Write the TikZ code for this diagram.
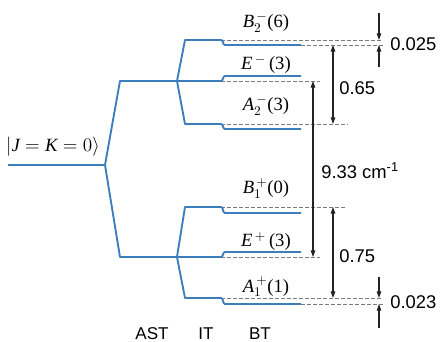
\documentclass[tikz,border=0pt]{standalone}
\usepackage{fontspec}
\setmainfont{Liberation Serif}
\setsansfont{Liberation Sans}
\usetikzlibrary{arrows.meta}
\definecolor{lvlblue}{RGB}{60,125,190}
\definecolor{dashgray}{RGB}{125,125,125}
\definecolor{arrgray}{RGB}{35,35,35}
\begin{document}
\begin{tikzpicture}[x=0.75pt,y=-0.75pt,
  level/.style={draw=lvlblue, line width=1.4pt, line join=round},
  guide/.style={draw=dashgray, line width=0.6pt, dash pattern=on 3pt off 1.5pt},
  gap/.style={draw=arrgray, line width=0.8pt},
  dbl/.style={gap, {Triangle[length=5pt,width=3.4pt]}-{Triangle[length=5pt,width=3.4pt]}},
  one/.style={gap, -{Triangle[length=5pt,width=3.4pt]}},
  sym/.style={font=\fontsize{14}{16}\selectfont, anchor=base, inner sep=0pt},
  num/.style={font=\sffamily\fontsize{13.8}{16}\selectfont, anchor=west, inner sep=0pt},
  col/.style={font=\sffamily\fontsize{12.8}{15}\selectfont, inner sep=0pt}]
\useasboundingbox (0,0) rectangle (443,342);

% ground and AST
\coordinate (g0) at (8,165);
\coordinate (g1) at (105,165);
\coordinate (au0) at (120,81);
\coordinate (au1) at (177,81);
\coordinate (al0) at (120,257);
\coordinate (al1) at (177,257);
% IT upper group
\coordinate (i1a) at (185,40);  \coordinate (i1b) at (221,40);
\coordinate (i2b) at (221,81);
\coordinate (i3a) at (185,124); \coordinate (i3b) at (221,124);
% IT lower group
\coordinate (i4a) at (185,207); \coordinate (i4b) at (221,207);
\coordinate (i5b) at (221,257);
\coordinate (i6a) at (185,298); \coordinate (i6b) at (221,298);
% BT levels
\coordinate (b1a) at (225,45);  \coordinate (b1b) at (301,45);
\coordinate (b2a) at (225,76);  \coordinate (b2b) at (301,76);
\coordinate (b3a) at (225,129); \coordinate (b3b) at (301,129);
\coordinate (b4a) at (225,213); \coordinate (b4b) at (301,213);
\coordinate (b5a) at (225,252); \coordinate (b5b) at (301,252);
\coordinate (b6a) at (225,304); \coordinate (b6b) at (301,304);

% dashed guide ends
\coordinate (e1) at (383,40);
\coordinate (e1b) at (383,45);
\coordinate (e2) at (320,81);
\coordinate (e3) at (348,124);
\coordinate (e4) at (347,207);
\coordinate (e5) at (320,257);
\coordinate (e6) at (383,298);
\coordinate (e6b) at (383,304);

% dashed guides
\draw[guide] (i1b) -- (e1);
\draw[guide] (b1b) -- (e1b);
\draw[guide] (i2b) -- (e2);
\draw[guide] (i3b) -- (e3);
\draw[guide] (i4b) -- (e4);
\draw[guide] (i5b) -- (e5);
\draw[guide] (i6b) -- (e6);
\draw[guide] (b6b) -- (e6b);

% blue level lines
\draw[level] (g0) -- (g1) -- (au0) -- (au1);
\draw[level] (g1) -- (al0) -- (al1);
\draw[level] (au1) -- (i1a) -- (i1b) to[out=0,in=180] (b1a) -- (b1b);
\draw[level] (au1) -- (i2b) to[out=0,in=180] (b2a) -- (b2b);
\draw[level] (au1) -- (i3a) -- (i3b) to[out=0,in=180] (b3a) -- (b3b);
\draw[level] (al1) -- (i4a) -- (i4b) to[out=0,in=180] (b4a) -- (b4b);
\draw[level] (al1) -- (i5b) to[out=0,in=180] (b5a) -- (b5b);
\draw[level] (al1) -- (i6a) -- (i6b) to[out=0,in=180] (b6a) -- (b6b);

% arrows
\coordinate (a65t) at (333,45);  \coordinate (a65b) at (333,124);
\coordinate (a93t) at (313,81);  \coordinate (a93b) at (313,257);
\coordinate (a75t) at (333,207); \coordinate (a75b) at (333,298);
\coordinate (k1s) at (379,13);   \coordinate (k1e) at (379,40);
\coordinate (k2s) at (379,67);   \coordinate (k2e) at (379,45);
\coordinate (k3s) at (379,277);  \coordinate (k3e) at (379,298);
\coordinate (k4s) at (379,328);  \coordinate (k4e) at (379,304);
\draw[dbl] (a65t) -- (a65b);
\draw[dbl] (a93t) -- (a93b);
\draw[dbl] (a75t) -- (a75b);
\draw[one] (k1s) -- (k1e);
\draw[one] (k2s) -- (k2e);
\draw[one] (k3s) -- (k3e);
\draw[one] (k4s) -- (k4e);

% numeric labels
\node[num] (n025) at (390,44) {0.025};
\node[num] (n65) at (339,88) {0.65};
\node[num] (n933) at (321,171) {9.33 cm\textsuperscript{-1}};
\node[num] (n75) at (339,256) {0.75};
\node[num] (n023) at (390,302) {0.023};

% symmetry labels
\node[sym] (lB2) at (266,28) {$\mathit{B}_2^{\,-}$(6)};
\node[sym] (lEm) at (266,70) {$\mathit{E}^{\,-}$\,(3)};
\node[sym] (lA2) at (266,111) {$\mathit{A}_2^{\,-}$(3)};
\node[sym] (lB1) at (266,194) {$\mathit{B}_1^{\,+}$(0)};
\node[sym] (lEp) at (266,247) {$\mathit{E}^{\,+}$\,(3)};
\node[sym] (lA1) at (266,292) {$\mathit{A}_1^{\,+}$(1)};

% ground state label
\node[sym] (gs) at (53,152) {$|\mathit{J}=\mathit{K}=0\rangle$};

% column labels
\node[col] (cAST) at (152,334) {AST};
\node[col] (cIT) at (206,334) {IT};
\node[col] (cBT) at (260,334) {BT};
\end{tikzpicture}
\end{document}
